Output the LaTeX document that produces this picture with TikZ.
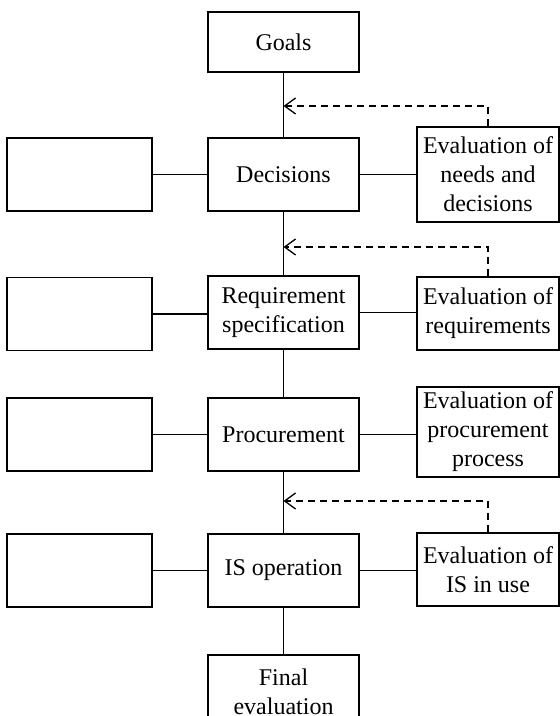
\documentclass[tikz,border=0pt]{standalone}
\usepackage{fontspec}
\setmainfont{Liberation Serif}
\usetikzlibrary{arrows.meta}
\begin{document}
\begin{tikzpicture}[x=1pt,y=1pt,
  box/.style={draw,line width=1.6pt,inner sep=0pt,align=center,
    font=\fontsize{24}{29}\selectfont},
  cbox/.style={box,minimum width=151pt,minimum height=73pt},
  lbox/.style={box,minimum width=145pt,minimum height=73pt},
  rbox/.style={box,minimum width=142pt,minimum height=73pt},
  link/.style={line width=1.3pt},
  fb/.style={line width=1.3pt,dash pattern=on 7pt off 5pt,
    -{Straight Barb[length=11pt,width=16pt,line width=1.3pt]}}]
\useasboundingbox (0,0) rectangle (560,716);
% central column
\node[cbox,minimum height=60pt] (goals) at (283.5,674) {Goals};
\node[cbox] (dec) at (283.5,541.5) {Decisions};
\node[cbox] (req) at (283.5,403.5) {Requirement\\specification};
\node[cbox] (proc) at (283.5,281.5) {Procurement};
\node[cbox] (isop) at (283.5,145.5) {IS operation};
\node[cbox] (final) at (283.5,24.5) {Final\\evaluation};
% left column
\node[lbox] (l1) at (79.5,541.5) {};
\node[lbox] (l2) at (79.5,402) {};
\node[lbox] (l3) at (79.5,281.5) {};
\node[lbox] (l4) at (79.5,145.5) {};
% right column
\node[rbox,minimum height=95pt] (r1) at (488,541.5) {Evaluation of\\needs and\\decisions};
\node[rbox] (r2) at (488,402.5) {Evaluation of\\requirements};
\node[rbox,minimum height=90pt] (r3) at (488,284) {Evaluation of\\procurement\\process};
\node[rbox] (r4) at (488,146.5) {Evaluation of\\IS in use};
% vertical chain
\draw[link] (goals) -- (dec);
\draw[link] (dec) -- (req);
\draw[link] (req) -- (proc);
\draw[link] (proc) -- (isop);
\draw[link] (isop) -- (final);
% horizontal links
\draw[link] (l1) -- (dec);
\draw[link] (dec) -- (r1);
\draw[link] (l2.east) -- (l2.east -| req.west);
\draw[link] (req.east) -- (req.east -| r2.west);
\draw[link] (l3.east) -- (l3.east -| proc.west);
\draw[link] (proc.east) -- (proc.east -| r3.west);
\draw[link] (l4.east) -- (l4.east -| isop.west);
\draw[link] (isop.east) -- (isop.east -| r4.west);
% feedback arrows
\coordinate (t1) at (283.5,610);
\coordinate (t2) at (283.5,469);
\coordinate (t3) at (283.5,215);
\draw[fb] (r1.north) |- (t1);
\draw[fb] (r2.north) |- (t2);
\draw[fb] (r4.north) |- (t3);
\end{tikzpicture}
\end{document}
